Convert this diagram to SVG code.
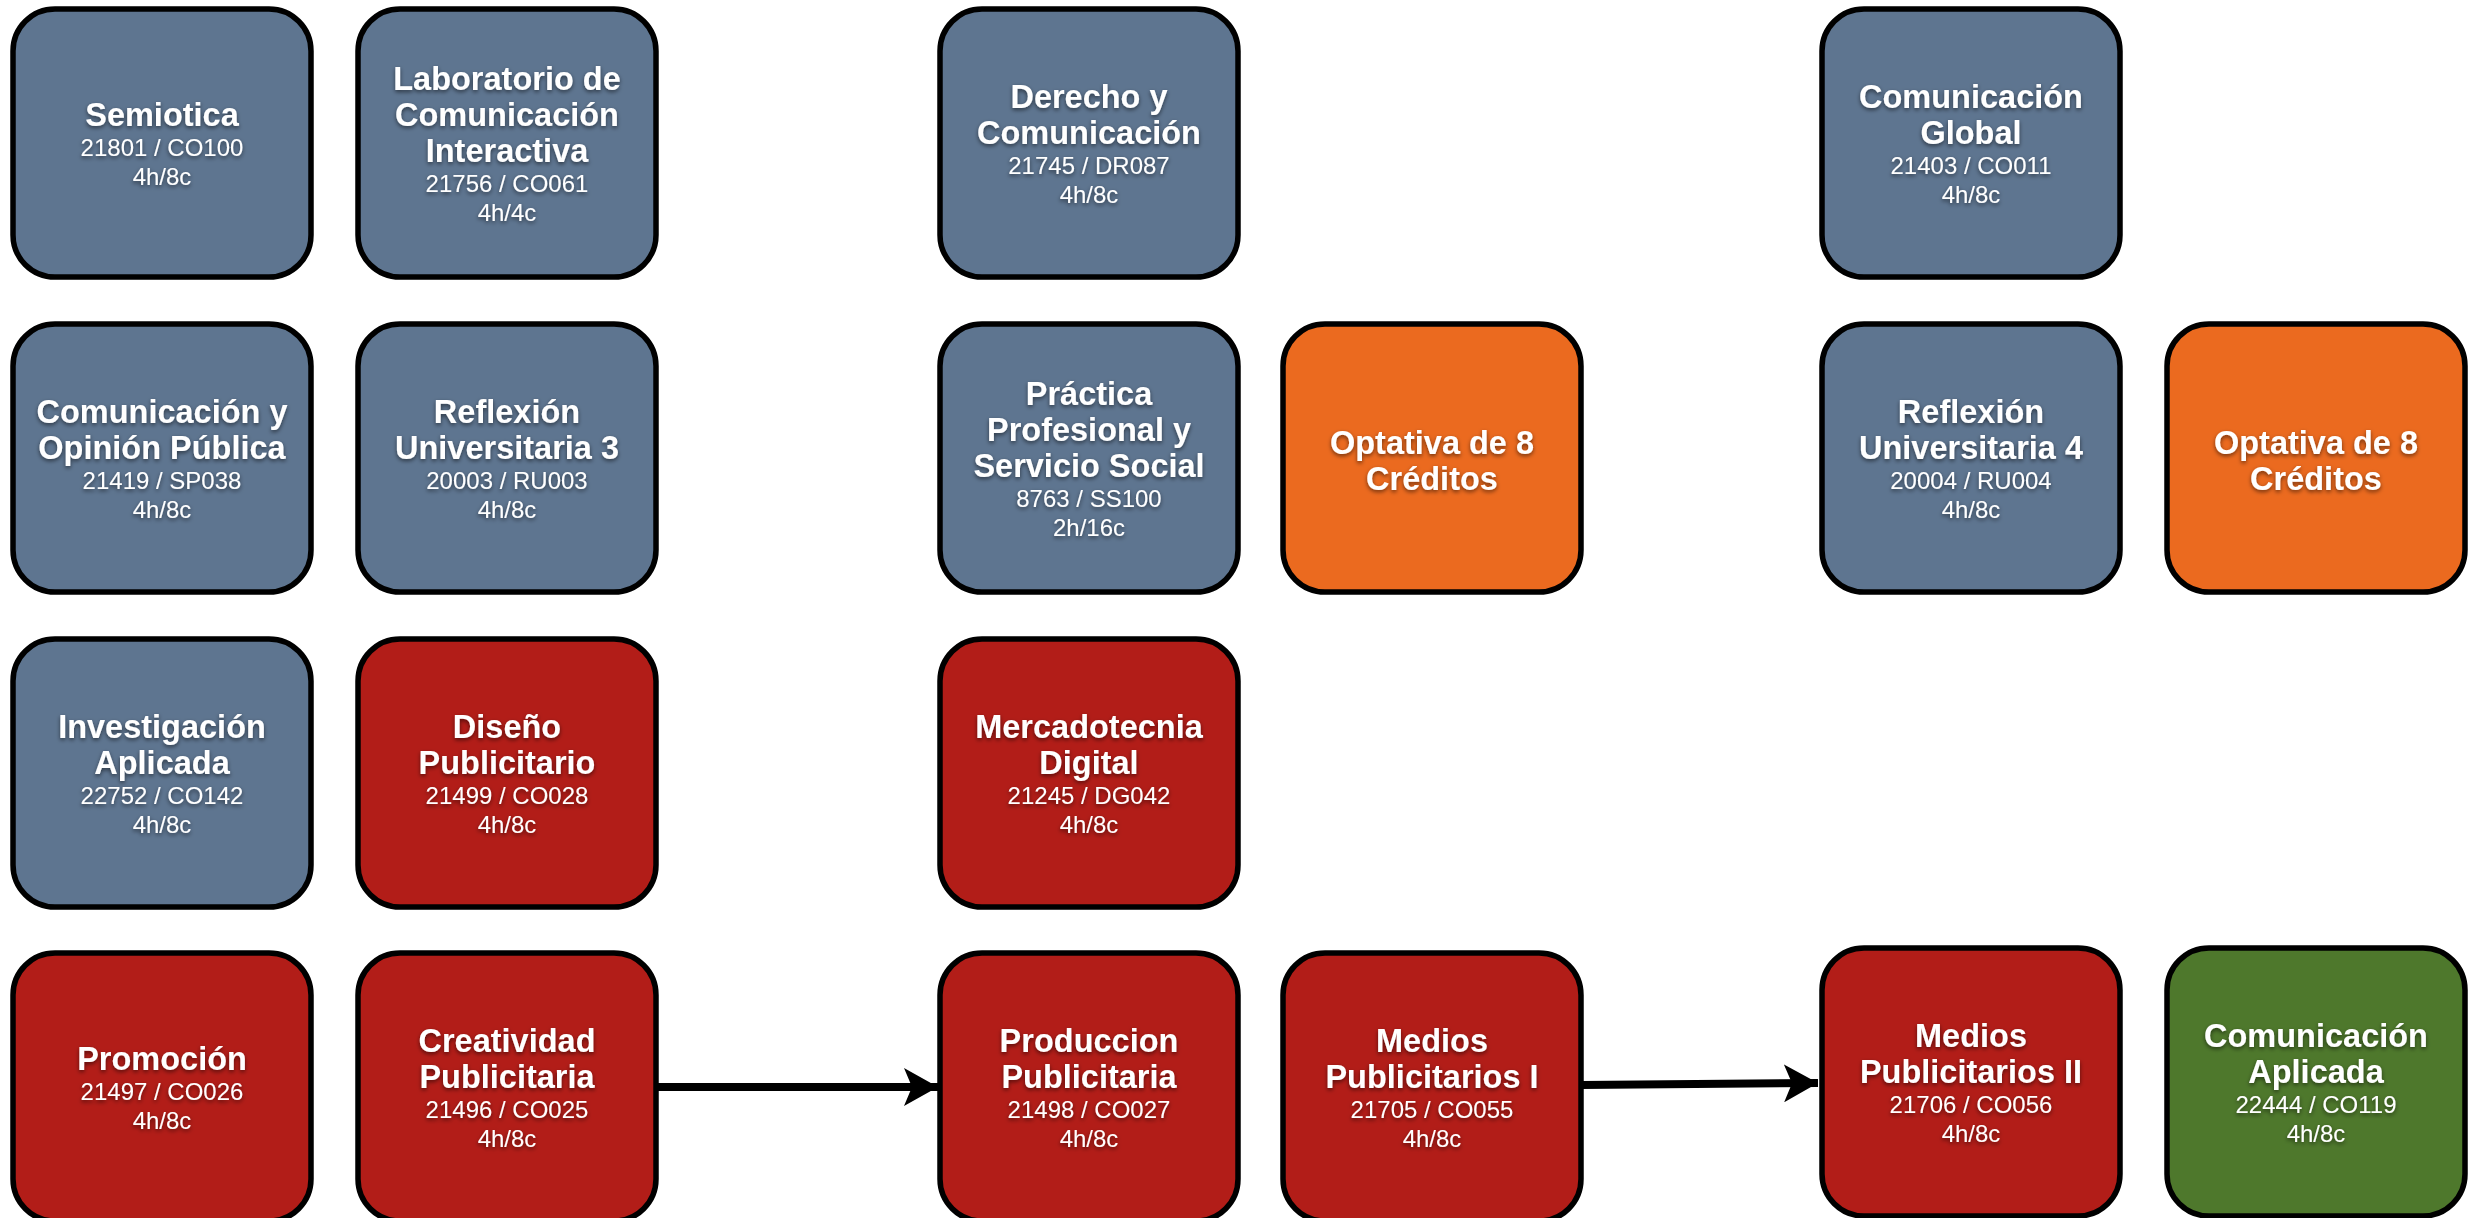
<svg xmlns="http://www.w3.org/2000/svg" width="2473" height="1218" viewBox="0 0 2473 1218">
<style>
.box{stroke:#000;stroke-width:5.5}
.blue{fill:#5e7590}
.red{fill:#b21d18}
.orange{fill:#eb6a1f}
.green{fill:#4e782c}
.t{font-family:"Liberation Sans",Arial,sans-serif;font-weight:bold;font-size:32.5px;fill:#fff;text-anchor:middle;filter:url(#ts)}
.s{font-family:"Liberation Sans",Arial,sans-serif;font-size:24px;fill:#fff;text-anchor:middle;filter:url(#ts)}
.conn{stroke:#000;stroke-width:8;fill:none}
</style>
<defs>
<filter id="ts" x="-20%" y="-40%" width="140%" height="180%">
<feDropShadow dx="0" dy="2" stdDeviation="2" flood-color="#000" flood-opacity="0.55"/>
</filter>
<marker id="ah" markerUnits="userSpaceOnUse" markerWidth="36" markerHeight="38" refX="34" refY="19" orient="auto">
<path d="M0,0 L34,19 L0,38 L8,19 Z" fill="#000"/>
</marker>
</defs>

<g id="connectors">
<line class="conn" x1="656" y1="1087" x2="938" y2="1087" marker-end="url(#ah)"/>
<line class="conn" x1="1582" y1="1085" x2="1818" y2="1083" marker-end="url(#ah)"/>
</g>

<g id="semiotica">
<rect class="box blue" x="13" y="9" width="298" height="268" rx="42"/>
<text class="t" x="162" y="126">Semiotica</text>
<text class="s" x="162" y="156">21801 / CO100</text>
<text class="s" x="162" y="185">4h/8c</text>
</g>
<g id="laboratorio">
<rect class="box blue" x="358" y="9" width="298" height="268" rx="42"/>
<text class="t" x="507" y="90">Laboratorio de</text>
<text class="t" x="507" y="126">Comunicación</text>
<text class="t" x="507" y="162">Interactiva</text>
<text class="s" x="507" y="192">21756 / CO061</text>
<text class="s" x="507" y="221">4h/4c</text>
</g>
<g id="derecho">
<rect class="box blue" x="940" y="9" width="298" height="268" rx="42"/>
<text class="t" x="1089" y="108">Derecho y</text>
<text class="t" x="1089" y="144">Comunicación</text>
<text class="s" x="1089" y="174">21745 / DR087</text>
<text class="s" x="1089" y="203">4h/8c</text>
</g>
<g id="comunicacion-global">
<rect class="box blue" x="1822" y="9" width="298" height="268" rx="42"/>
<text class="t" x="1971" y="108">Comunicación</text>
<text class="t" x="1971" y="144">Global</text>
<text class="s" x="1971" y="174">21403 / CO011</text>
<text class="s" x="1971" y="203">4h/8c</text>
</g>

<g id="opinion-publica">
<rect class="box blue" x="13" y="324" width="298" height="268" rx="42"/>
<text class="t" x="162" y="422.5">Comunicación y</text>
<text class="t" x="162" y="458.5">Opinión Pública</text>
<text class="s" x="162" y="488.5">21419 / SP038</text>
<text class="s" x="162" y="517.5">4h/8c</text>
</g>
<g id="reflexion-3">
<rect class="box blue" x="358" y="324" width="298" height="268" rx="42"/>
<text class="t" x="507" y="422.5">Reflexión</text>
<text class="t" x="507" y="458.5">Universitaria 3</text>
<text class="s" x="507" y="488.5">20003 / RU003</text>
<text class="s" x="507" y="517.5">4h/8c</text>
</g>
<g id="practica">
<rect class="box blue" x="940" y="324" width="298" height="268" rx="42"/>
<text class="t" x="1089" y="404.5">Práctica</text>
<text class="t" x="1089" y="440.5">Profesional y</text>
<text class="t" x="1089" y="476.5">Servicio Social</text>
<text class="s" x="1089" y="506.5">8763 / SS100</text>
<text class="s" x="1089" y="535.5">2h/16c</text>
</g>
<g id="optativa-1">
<rect class="box orange" x="1283" y="324" width="298" height="268" rx="42"/>
<text class="t" x="1432" y="453.5">Optativa de 8</text>
<text class="t" x="1432" y="489.5">Créditos</text>
</g>
<g id="reflexion-4">
<rect class="box blue" x="1822" y="324" width="298" height="268" rx="42"/>
<text class="t" x="1971" y="422.5">Reflexión</text>
<text class="t" x="1971" y="458.5">Universitaria 4</text>
<text class="s" x="1971" y="488.5">20004 / RU004</text>
<text class="s" x="1971" y="517.5">4h/8c</text>
</g>
<g id="optativa-2">
<rect class="box orange" x="2167" y="324" width="298" height="268" rx="42"/>
<text class="t" x="2316" y="453.5">Optativa de 8</text>
<text class="t" x="2316" y="489.5">Créditos</text>
</g>

<g id="investigacion">
<rect class="box blue" x="13" y="639" width="298" height="268" rx="42"/>
<text class="t" x="162" y="737.5">Investigación</text>
<text class="t" x="162" y="773.5">Aplicada</text>
<text class="s" x="162" y="803.5">22752 / CO142</text>
<text class="s" x="162" y="832.5">4h/8c</text>
</g>
<g id="diseno">
<rect class="box red" x="358" y="639" width="298" height="268" rx="42"/>
<text class="t" x="507" y="737.5">Diseño</text>
<text class="t" x="507" y="773.5">Publicitario</text>
<text class="s" x="507" y="803.5">21499 / CO028</text>
<text class="s" x="507" y="832.5">4h/8c</text>
</g>
<g id="mercadotecnia">
<rect class="box red" x="940" y="639" width="298" height="268" rx="42"/>
<text class="t" x="1089" y="737.5">Mercadotecnia</text>
<text class="t" x="1089" y="773.5">Digital</text>
<text class="s" x="1089" y="803.5">21245 / DG042</text>
<text class="s" x="1089" y="832.5">4h/8c</text>
</g>

<g id="promocion">
<rect class="box red" x="13" y="953" width="298" height="268" rx="42"/>
<text class="t" x="162" y="1069.5">Promoción</text>
<text class="s" x="162" y="1099.5">21497 / CO026</text>
<text class="s" x="162" y="1128.5">4h/8c</text>
</g>
<g id="creatividad">
<rect class="box red" x="358" y="953" width="298" height="268" rx="42"/>
<text class="t" x="507" y="1051.5">Creatividad</text>
<text class="t" x="507" y="1087.5">Publicitaria</text>
<text class="s" x="507" y="1117.5">21496 / CO025</text>
<text class="s" x="507" y="1146.5">4h/8c</text>
</g>
<g id="produccion">
<rect class="box red" x="940" y="953" width="298" height="268" rx="42"/>
<text class="t" x="1089" y="1051.5">Produccion</text>
<text class="t" x="1089" y="1087.5">Publicitaria</text>
<text class="s" x="1089" y="1117.5">21498 / CO027</text>
<text class="s" x="1089" y="1146.5">4h/8c</text>
</g>
<g id="medios-1">
<rect class="box red" x="1283" y="953" width="298" height="268" rx="42"/>
<text class="t" x="1432" y="1051.5">Medios</text>
<text class="t" x="1432" y="1087.5">Publicitarios I</text>
<text class="s" x="1432" y="1117.5">21705 / CO055</text>
<text class="s" x="1432" y="1146.5">4h/8c</text>
</g>
<g id="medios-2">
<rect class="box red" x="1822" y="948" width="298" height="268" rx="42"/>
<text class="t" x="1971" y="1046.5">Medios</text>
<text class="t" x="1971" y="1082.5">Publicitarios II</text>
<text class="s" x="1971" y="1112.5">21706 / CO056</text>
<text class="s" x="1971" y="1141.5">4h/8c</text>
</g>
<g id="comunicacion-aplicada">
<rect class="box green" x="2167" y="948" width="298" height="268" rx="42"/>
<text class="t" x="2316" y="1046.5">Comunicación</text>
<text class="t" x="2316" y="1082.5">Aplicada</text>
<text class="s" x="2316" y="1112.5">22444 / CO119</text>
<text class="s" x="2316" y="1141.5">4h/8c</text>
</g>
</svg>
